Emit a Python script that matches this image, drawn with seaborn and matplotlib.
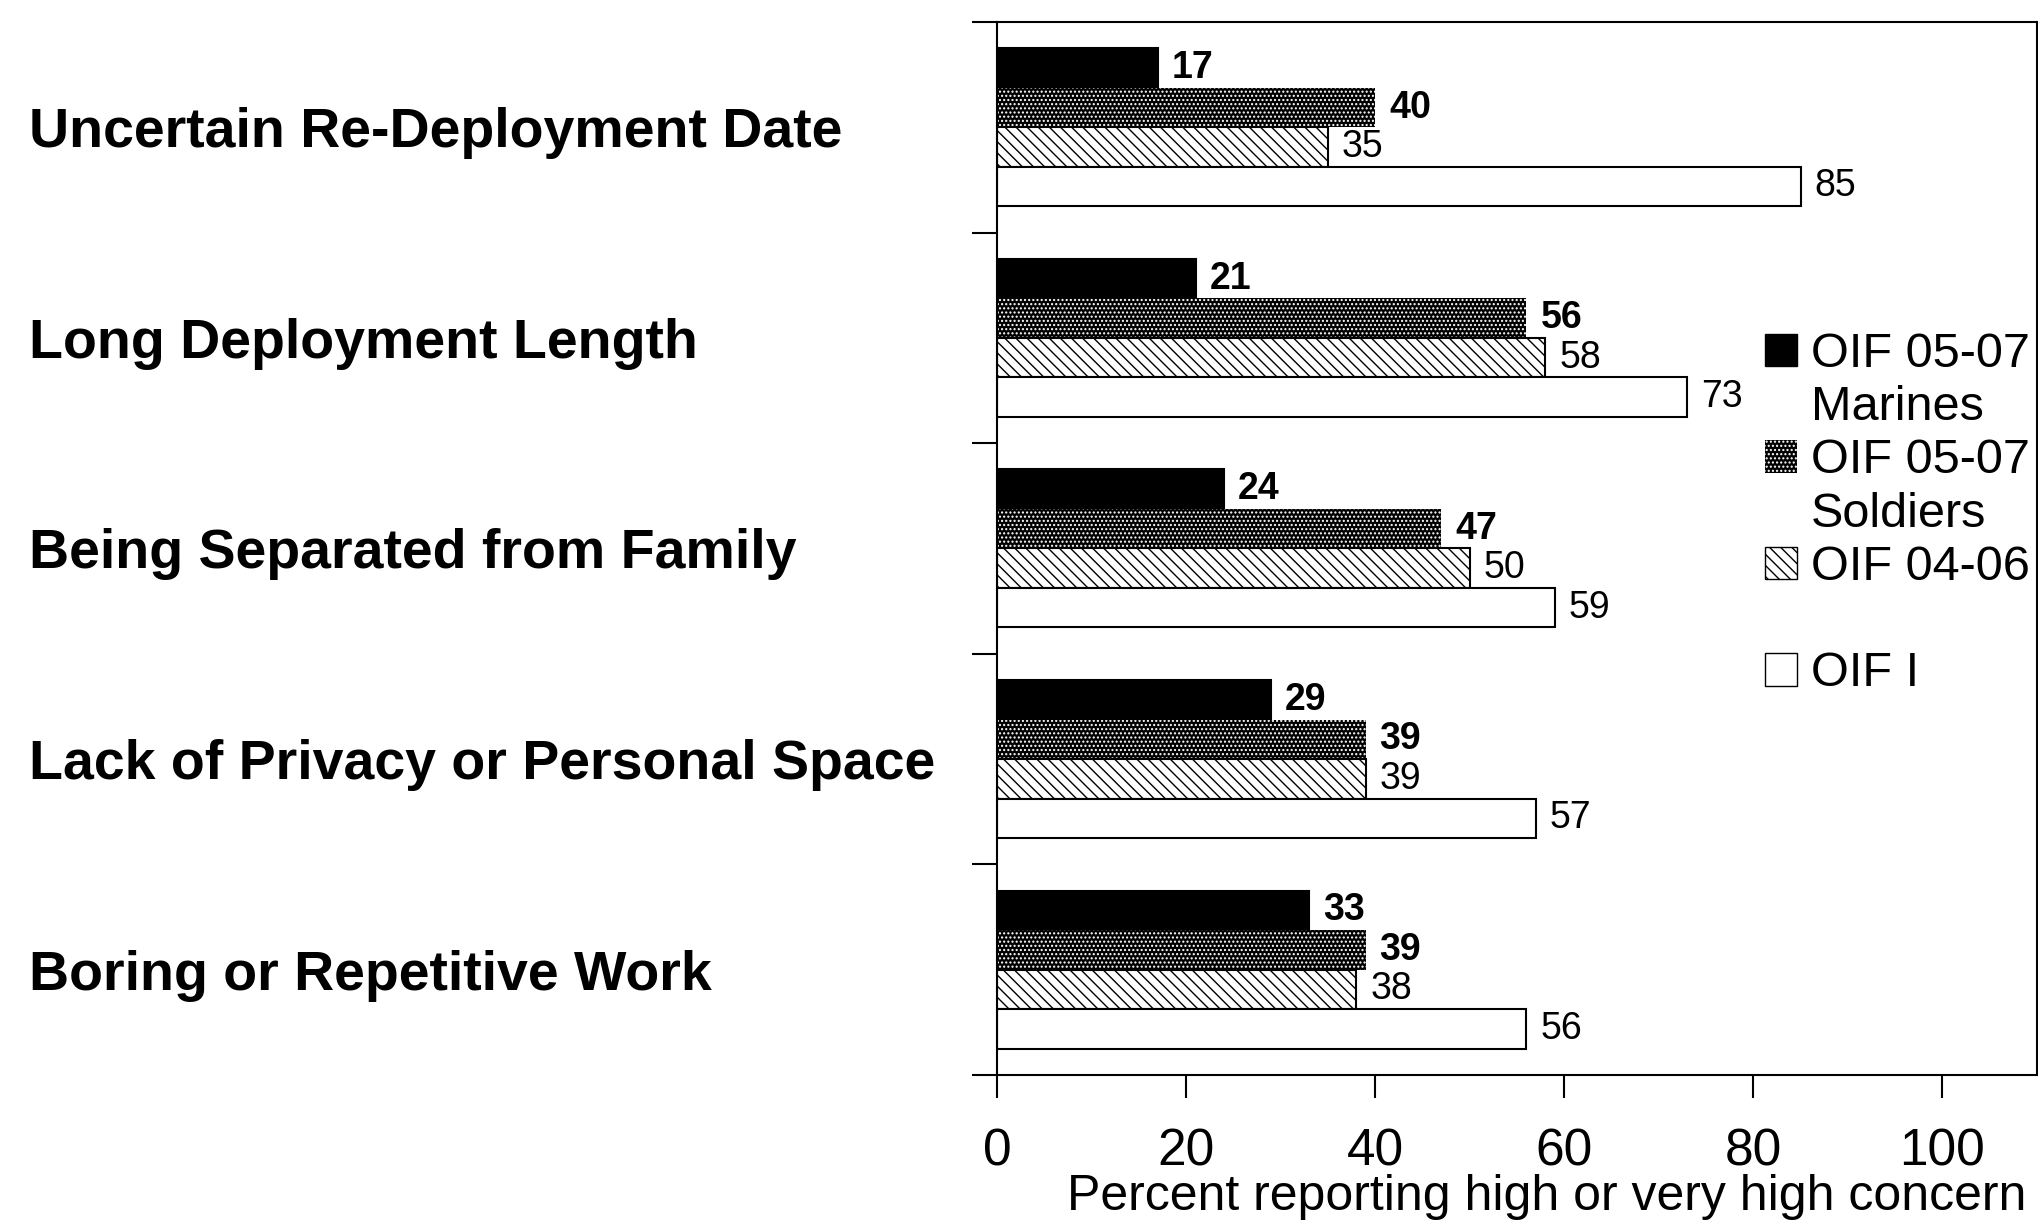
import numpy as np
import pandas as pd
import seaborn as sns
import matplotlib.pyplot as plt
from matplotlib.patches import Patch

# values
concerns = [
    "Uncertain Re-Deployment Date",
    "Long Deployment Length",
    "Being Separated from Family",
    "Lack of Privacy or Personal Space",
    "Boring or Repetitive Work",
]
groups = ["OIF 05-07 Marines", "OIF 05-07 Soldiers", "OIF 04-06", "OIF I"]
marines = [17, 21, 24, 29, 33]
soldiers = [40, 56, 47, 39, 39]
oif_0406 = [35, 58, 50, 39, 38]
oif_1 = [85, 73, 59, 57, 56]

x_ticks = [0, 20, 40, 60, 80, 100]

df = pd.DataFrame({
    "concern": concerns * 4,
    "group": np.repeat(groups, len(concerns)),
    "value": marines + soldiers + oif_0406 + oif_1,
})

sns.set_theme(style="white")
plt.rcParams["font.family"] = ["Liberation Sans", "DejaVu Sans"]
plt.rcParams["text.color"] = "black"
plt.rcParams["axes.labelcolor"] = "black"
plt.rcParams["xtick.color"] = "black"
plt.rcParams["ytick.color"] = "black"

fig = plt.figure(figsize=(20.38, 12.20), dpi=100)
ax = fig.add_axes([0.4892, 0.1189, 0.5103, 0.8631])

sns.barplot(
    data=df, x="value", y="concern", hue="group", orient="h",
    hue_order=groups, order=concerns,
    palette=["black", "black", "white", "white"], saturation=1,
    width=0.75, edgecolor="black", linewidth=1.5, legend=False, ax=ax,
)

# fill patterns
dot_hatch = "...."
wave_hatch = "\\\\\\"
for p in ax.containers[1]:
    p.set_edgecolor("white")
    p.set_hatch(dot_hatch)
    p.set_linewidth(0)
for p in ax.containers[2]:
    p.set_hatch(wave_hatch)

# value labels
series = [marines, soldiers, oif_0406, oif_1]
for i, (cont, vals) in enumerate(zip(ax.containers, series)):
    ax.bar_label(cont, labels=[str(v) for v in vals], padding=10,
                 fontsize=27, fontweight="bold" if i < 2 else "normal",
                 color="black")

ax.set_xlim(0, 110)
ax.set_ylim(len(concerns) - 0.5, -0.5)
ax.set_xticks(x_ticks)
ax.set_xticklabels([str(t) for t in x_ticks], fontsize=37)
ax.tick_params(axis="x", length=16.5, width=1.5, pad=21,
               direction="out", bottom=True)

ax.set_yticks(np.arange(-0.5, len(concerns), 1), minor=True)
ax.tick_params(axis="y", which="minor", length=18, width=1.5,
               direction="out", left=True)
ax.tick_params(axis="y", which="major", length=0, pad=697)
ax.set_yticklabels(concerns, fontsize=40, fontweight="bold")
for lbl in ax.get_yticklabels():
    lbl.set_horizontalalignment("left")

ax.set_ylabel("")
ax.set_xlabel("Percent reporting high or very high concern", fontsize=36)
ax.xaxis.set_label_coords(0.529, -0.094)

for s in ax.spines.values():
    s.set_visible(True)
    s.set_color("black")
    s.set_linewidth(1.5)

# legend, one row per text line
handles = [
    Patch(facecolor="black", edgecolor="black"),
    Patch(facecolor="none", edgecolor="none"),
    Patch(facecolor="black", edgecolor="white", hatch=dot_hatch, linewidth=0),
    Patch(facecolor="none", edgecolor="none"),
    Patch(facecolor="white", edgecolor="black", hatch=wave_hatch),
    Patch(facecolor="none", edgecolor="none"),
    Patch(facecolor="white", edgecolor="black"),
]
labels = ["OIF 05-07", "Marines", "OIF 05-07", "Soldiers", "OIF 04-06", " ", "OIF I"]
fig.legend(handles, labels, loc="upper left", bbox_to_anchor=(0.866, 0.728),
           frameon=False, fontsize=35, handlelength=0.65, handleheight=0.65,
           handletextpad=0.3, labelspacing=0.17, borderpad=0, borderaxespad=0)

fig.savefig("out.png", dpi=100)
